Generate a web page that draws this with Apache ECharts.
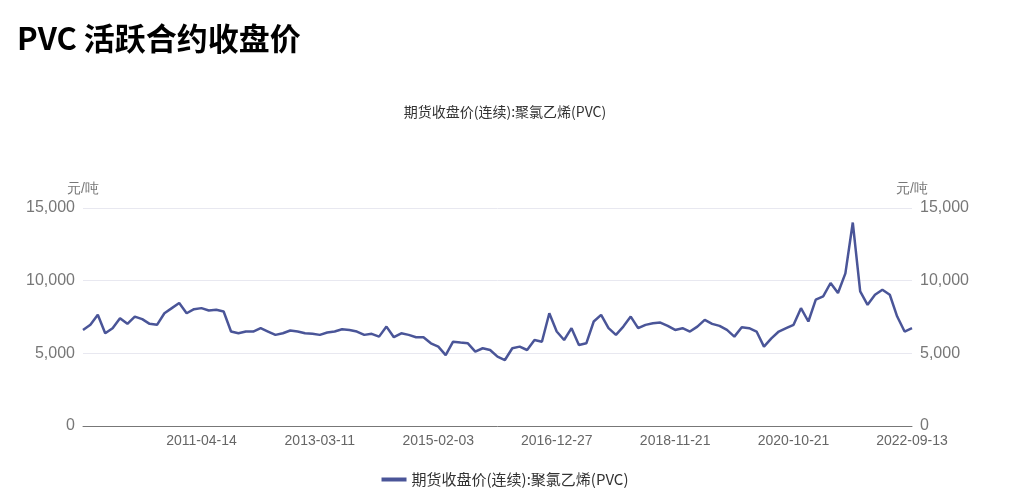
<!DOCTYPE html>
<html><head><meta charset="utf-8">
<script src="https://cdn.jsdelivr.net/npm/echarts@6/dist/echarts.min.js"></script>
<style>html,body{margin:0;padding:0;background:#fff}#c{width:1010px;height:504px}</style>
</head><body><div id="c"></div>
<script>
const seriesName = '期货收盘价(连续):聚氯乙烯(PVC)';
const labelDates = ['2011-04-14','2013-03-11','2015-02-03','2016-12-27','2018-11-21','2020-10-21','2022-09-13'];
const values = [6600,6960,7650,6380,6730,7420,7030,7530,7350,7030,6960,7760,8110,8460,7760,8040,
8110,7950,8000,7880,6500,6380,6500,6500,6730,6500,6270,6380,6570,6500,6380,6340,
6270,6430,6500,6660,6610,6500,6270,6340,6150,6840,6110,6380,6270,6110,6110,5690,
5460,4880,5800,5740,5690,5120,5350,5230,4770,4540,5350,5460,5230,5920,5800,7760,
6500,5920,6730,5580,5690,7190,7650,6730,6270,6840,7530,6730,6960,7070,7120,6890,
6610,6730,6500,6840,7300,7030,6890,6610,6150,6800,6730,6500,5460,6030,6500,6730,
6960,8110,7190,8690,8920,9840,9150,10500,14000,9260,8340,9030,9380,9030,7530,6500,6730];
const yTicks = [0,5000,10000,15000];
const step = 16;
const t = labelDates.map(d => new Date(d + 'T00:00:00Z').getTime());
const cats = values.map((v, i) => {
  let seg = Math.min(Math.max(Math.floor(i / step) - 1, 0), t.length - 2);
  const f = (i - (seg + 1) * step) / step;
  const ms = t[seg] + (t[seg + 1] - t[seg]) * f;
  return new Date(ms).toISOString().slice(0, 10);
});
const yAx = (pos) => ({
  type: 'value', position: pos, min: yTicks[0], max: yTicks[yTicks.length-1], interval: 5000,
  name: '元/吨', nameGap: 12, nameTextStyle: {color: '#777', fontSize: 14},
  axisLabel: {color: '#777', fontSize: 16, formatter: v => v.toLocaleString('en-US')},
  splitLine: {show: pos==='left', lineStyle: {color: '#e8e8f0'}},
  axisLine: {show: false}, axisTick: {show: false}
});
const chart = echarts.init(document.getElementById('c'));
chart.setOption({
  animation: false,
  title: [
    {text: 'PVC 活跃合约收盘价', left: 12, top: 18, textStyle: {fontSize: 31, fontWeight: 'bold', color: '#000', fontFamily: 'Noto Sans CJK SC'}},
    {text: seriesName, left: 'center', top: 100, textStyle: {fontSize: 14, fontWeight: 'normal', color: '#333', fontFamily: 'Noto Sans CJK SC'}}
  ],
  grid: {left: 83, right: 98, top: 208, bottom: 78},
  legend: {bottom: 12, left: 'center', icon: 'rect', itemWidth: 25, itemHeight: 4, textStyle: {fontSize: 15, color: '#333', fontFamily: 'Noto Sans CJK SC'}, data: [seriesName]},
  xAxis: {type: 'category', data: cats, boundaryGap: false,
    axisLine: {lineStyle: {color: '#777'}}, axisTick: {show: false},
    axisLabel: {color: '#666', fontSize: 14, interval: (i) => i > 0 && i % step === 0}},
  yAxis: [yAx('left'), yAx('right')],
  series: [{name: seriesName, type: 'line', data: values, showSymbol: false, symbol: 'none',
    lineStyle: {color: '#4a5598', width: 2.5}, itemStyle: {color: '#4a5598'}},
    {name: 'r', type: 'line', yAxisIndex: 1, data: [], showSymbol: false}]
});
</script></body></html>
